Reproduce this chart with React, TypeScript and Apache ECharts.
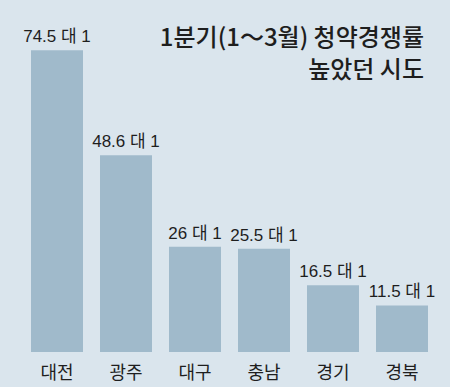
import React, { useEffect, useRef } from "react";
import * as echarts from "echarts";

const categories = ["대전", "광주", "대구", "충남", "경기", "경북"];
const values = [74.5, 48.6, 26, 25.5, 16.5, 11.5];
const titleLines = ["1분기(1～3월) 청약경쟁률", "높았던 시도"];

export default function App() {
  const ref = useRef<HTMLDivElement>(null);
  useEffect(() => {
    document.body.style.margin = "0";
    const chart = echarts.init(ref.current!, undefined, { renderer: "svg" });
    const labelFont = '"Liberation Sans", "Noto Sans CJK KR", sans-serif';
    chart.setOption({
      animation: false,
      backgroundColor: "#dae5ed",
      grid: { left: 22.5, width: 414, top: 28, bottom: 35 },
      xAxis: {
        type: "category",
        data: categories,
        axisLine: { show: false },
        axisTick: { show: false },
        axisLabel: {
          color: "#1e1e1e",
          fontSize: 18,
          margin: 10,
          fontFamily: '"Noto Sans CJK KR", sans-serif',
        },
      },
      yAxis: { type: "value", min: 0, max: 80, show: false },
      series: [
        {
          type: "bar",
          data: values,
          barWidth: 52,
          itemStyle: { color: "#a0bacb" },
          label: {
            show: true,
            position: "top",
            distance: 5,
            color: "#1e1e1e",
            fontSize: 17,
            fontFamily: labelFont,
            formatter: (p: any) => `${p.value} 대 1`,
          },
        },
      ],
      graphic: titleLines.map((t, i) => ({
        type: "text",
        x: 424,
        y: 35 + i * 32,
        style: {
          text: t,
          textAlign: "right",
          textVerticalAlign: "middle",
          fill: "#1e1e1e",
          font: '500 24px "Noto Sans CJK KR", sans-serif',
        },
      })),
    });
    return () => chart.dispose();
  }, []);
  return (
    <div
      ref={ref}
      style={{ position: "fixed", left: 0, top: 0, width: 450, height: 387 }}
    />
  );
}
